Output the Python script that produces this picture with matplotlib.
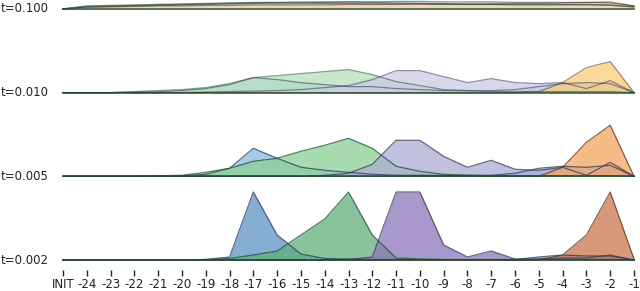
import numpy as np
import matplotlib
matplotlib.use("Agg")
import matplotlib.pyplot as plt

# positions: INIT, -24 ... -1
xlabels = ["INIT"] + [str(-k) for k in range(24, 0, -1)]
temps = ["t=0.002", "t=0.005", "t=0.010", "t=0.100"]

# heights (bottom row peak ~ 68)
blue_002 = [0, 0, 0, 0, 0, 0, 0.5, 3, 68, 25, 6, 1.5, 1, 0.5, 0.5, 0.3, 0.3, 0.3, 0.3, 0.5, 3, 5, 4, 4, 0]
green_002 = [0, 0, 0, 0, 0, 0, 0.5, 1.5, 5, 9, 25, 41, 68, 25, 2, 1, 0.5, 0.5, 0.5, 0.5, 0.5, 0.5, 0.5, 0.5, 0]
purple_002 = [0, 0, 0, 0, 0, 0, 0, 0, 0, 0, 0, 0, 0.5, 3, 68, 68, 15, 3, 9, 1, 1, 2, 2, 5, 0]
orange_002 = [0, 0, 0, 0, 0, 0, 0, 0, 0, 0, 0, 0, 0, 0, 0, 0, 0, 0, 0, 0, 0, 5, 25, 68, 1]

blue_005 = [0, 0, 0, 0, 0, 0.5, 2, 8, 28, 18, 9, 6, 4, 2, 1, 1, 1, 1, 1, 3, 8, 10, 9, 11, 0]
green_005 = [0, 0, 0, 0, 0.5, 1, 4, 8, 15, 18, 25, 31, 38, 28, 10, 5, 2, 1, 0.5, 0.5, 0.5, 0.5, 0.5, 0.5, 0]
purple_005 = [0, 0, 0, 0, 0, 0, 0, 0, 0, 0, 0, 1, 3, 12, 36, 36, 20, 9, 16, 7, 6, 9, 1, 14, 0]
orange_005 = [0, 0, 0, 0, 0, 0, 0, 0, 0, 0, 0, 0, 0, 0, 0, 0, 0, 0, 0, 0, 0, 9, 34, 51, 0]

blue_010 = [0, 0, 0, 0.5, 1, 2, 4, 8, 15, 13, 10, 8, 6, 6, 4, 3, 2, 2, 2, 3, 6, 9, 10, 9, 0]
green_010 = [0, 0, 0, 1, 2, 3, 5, 9, 15, 17, 19, 21, 23, 18, 11, 7, 3, 2, 1, 1, 1, 1, 1, 1, 0]
purple_010 = [0, 0, 0, 0, 0, 0, 0.5, 1, 1.5, 2, 3, 5, 7, 13, 22, 22, 16, 10, 14, 10, 9, 10, 4, 12, 0]
orange_010 = [0, 0, 0, 0, 0, 0, 0, 0, 0, 0, 0, 0, 0, 0, 0, 0, 0, 0, 0, 0, 1, 10, 25, 31, 0]

blue_100 = [0, 2.5, 3, 3.5, 4, 4.5, 5, 5.5, 6, 6, 6, 5.5, 5.5, 5, 5, 5, 4.5, 4.5, 4.5, 4.5, 4.5, 4.5, 4.5, 4, 2]
green_100 = [0, 3, 3.5, 4, 4.5, 5, 5.5, 6, 6.5, 6.5, 7, 7, 7, 6.5, 6, 5.5, 5, 4.5, 4.5, 4, 4, 4, 4, 3.5, 2]
purple_100 = [0, 2, 2.5, 3, 3.5, 4, 4.5, 5, 5.5, 6, 6, 6.5, 7, 7, 7.5, 7.5, 7, 7, 7, 6.5, 6.5, 6.5, 6.5, 6, 3]
orange_100 = [0, 1.5, 2, 2.5, 3, 3, 3.5, 3.5, 4, 4, 4, 4, 4.5, 4.5, 4.5, 5, 5, 5, 5, 5.5, 5.5, 6, 6.5, 7, 3]

rows = [
    [blue_002, green_002, purple_002, orange_002],
    [blue_005, green_005, purple_005, orange_005],
    [blue_010, green_010, purple_010, orange_010],
    [blue_100, green_100, purple_100, orange_100],
]

# fill colours per row (blue, green, purple, orange)
fills = [
    ["#5d93c5", "#60af7b", "#8b76bb", "#cb764e"],
    ["#88bae0", "#8cd096", "#adabd3", "#f5a460"],
    ["#9dc8e8", "#b7e0ba", "#cccbe6", "#fccc7a"],
    ["#c6dbef", "#c7e9c0", "#dadaeb", "#fdd0a2"],
]
edges = ["#263a55", "#1f4f2f", "#3b3654", "#5b3520"]

x = np.arange(len(xlabels))
spacing = 83.7
base0 = 10

fig = plt.figure(figsize=(6.4, 2.91), dpi=100)
ax = fig.add_axes([63 / 640, 21 / 291, 571 / 640, 270 / 291])

for k, series in enumerate(rows):
    base = base0 + spacing * k
    for s, vals in enumerate(series):
        y = base + np.array(vals, dtype=float)
        ax.fill_between(x, base, y, color=fills[k][s], alpha=0.75, lw=0, clip_on=False)
        ax.plot(x, y, color=edges[s], lw=0.9, alpha=0.75 if k < 2 else 0.55, clip_on=False)
    ax.plot([x[0], x[-1]], [base, base], color="#1d4d2d", lw=1.2, alpha=0.85, clip_on=False)
    ax.text(-0.6, base, temps[k], ha="right", va="center", fontsize=8.5, color="#222222")

ax.set_xlim(0, 24)
ax.set_ylim(0, 270)
ax.set_xticks(x)
ax.set_xticklabels(xlabels, fontsize=8.5, color="#222222")
ax.tick_params(axis="x", length=4, width=1, color="#222222", pad=2)
ax.set_yticks([])
for sp in ax.spines.values():
    sp.set_visible(False)

fig.savefig("out.png", dpi=100)
